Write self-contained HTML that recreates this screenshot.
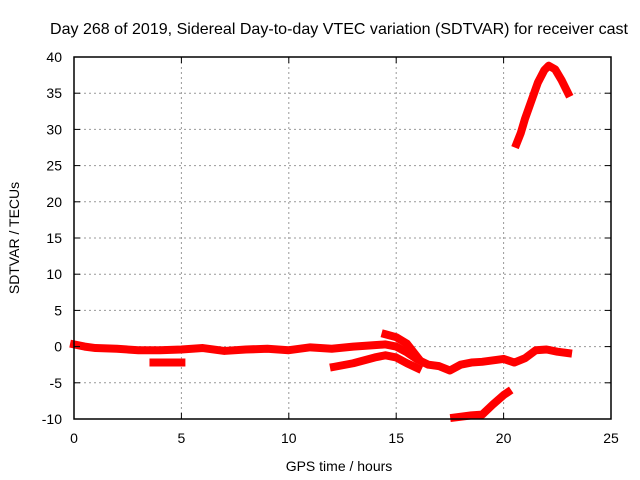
<!DOCTYPE html><html><head><style>body{margin:0;background:#fff}svg{display:block;font-family:"Liberation Sans",sans-serif}</style></head><body>
<svg width="640" height="480" viewBox="0 0 640 480" xmlns="http://www.w3.org/2000/svg">
<text x="339" y="34" font-size="16" text-anchor="middle" textLength="578" lengthAdjust="spacingAndGlyphs">Day 268 of 2019, Sidereal Day-to-day VTEC variation (SDTVAR) for receiver cast</text>
<g id="grid"></g><g id="series"></g>
<rect x="74" y="57" width="537" height="362" fill="none" stroke="#000" stroke-width="1.5"/>
<g id="ticks"></g>
<text x="339" y="471" font-size="14" text-anchor="middle">GPS time / hours</text>
<text transform="translate(19,238) rotate(-90)" font-size="14" text-anchor="middle">SDTVAR / TECUs</text>
</svg>
<script>
const xTicks=[0,5,10,15,20,25];
const yTicks=[40,35,30,25,20,15,10,5,0,-5,-10];
const seriesMain=[[0,0.3],[0.5,0],[1,-0.2],[2,-0.3],[3,-0.5],[4,-0.5],[5,-0.4],[6,-0.2],[7,-0.6],[8,-0.4],[9,-0.3],[10,-0.5],[11,-0.1],[12,-0.3],[13,0],[14,0.2],[14.5,0.3],[15,0],[15.5,-0.8],[16,-1.8],[16.5,-2.5],[17,-2.7],[17.5,-3.3],[18,-2.5],[18.5,-2.2],[19,-2.1],[20,-1.7],[20.5,-2.2],[21,-1.6],[21.5,-0.5],[22,-0.4],[22.5,-0.7],[23,-0.9]];
const seriesLower=[[12.1,-2.8],[13,-2.3],[14,-1.5],[14.5,-1.2],[15,-1.5],[15.5,-2.3],[16,-3.0]];
const seriesUpper=[[14.5,1.7],[15,1.3],[15.5,0.4],[16,-1.5]];
const seriesShort=[[3.7,-2.2],[5,-2.2]];
const seriesLow=[[17.7,-9.8],[18.5,-9.5],[19,-9.4],[19.5,-8],[20,-6.7],[20.2,-6.3]];
const seriesTop=[[20.6,28],[20.8,29.5],[21,31.5],[21.3,34],[21.6,36.5],[21.9,38.2],[22.1,38.8],[22.4,38.3],[22.7,36.8],[23,35]];
const X=h=>74+h*537/25, Y=v=>57+(40-v)*362/50;
const NS='http://www.w3.org/2000/svg';
const g=document.getElementById('grid'),t=document.getElementById('ticks'),s=document.getElementById('series');
function mk(p,tag,a){const e=document.createElementNS(NS,tag);for(const k in a)e.setAttribute(k,a[k]);p.appendChild(e);return e;}
xTicks.forEach(v=>{const x=X(v);
 if(v>0&&v<25){const l=mk(g,'line',{x1:x,x2:x,y1:57,y2:419,stroke:'#999','stroke-dasharray':'2,3'});
 
 }
 mk(t,'line',{x1:x,x2:x,y1:419,y2:413,stroke:'#000'});mk(t,'line',{x1:x,x2:x,y1:57,y2:63,stroke:'#000'});
 const tx=mk(t,'text',{x:x,y:443,'font-size':14,'text-anchor':'middle'});tx.textContent=v;
 
 });
yTicks.forEach(v=>{const y=Y(v);
 if(v>-10&&v<40){const l=mk(g,'line',{x1:74,x2:611,y1:y,y2:y,stroke:'#999','stroke-dasharray':'2,3'});
 
 }
 mk(t,'line',{x1:74,x2:80,y1:y,y2:y,stroke:'#000'});mk(t,'line',{x1:605,x2:611,y1:y,y2:y,stroke:'#000'});
 const tx=mk(t,'text',{x:62,y:y+5,'font-size':14,'text-anchor':'end'});tx.textContent=v;
 
 });
[['main',seriesMain],['lower',seriesLower],['upper',seriesUpper],['short',seriesShort],['low',seriesLow],['top',seriesTop]].forEach(([n,d])=>{
 const p=mk(s,'polyline',{points:d.map(q=>X(q[0])+','+Y(q[1])).join(' '),fill:'none',stroke:'#f00','stroke-width':8,'stroke-linejoin':'round','stroke-linecap':'square'});
 
 });
</script></body></html>
